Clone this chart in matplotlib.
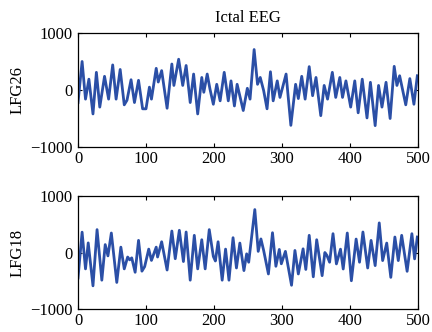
import numpy as np
import matplotlib
matplotlib.use('Agg')
import matplotlib.pyplot as plt

# peaks / troughs (sample index, amplitude)
t26 = [0, 6, 11, 16, 22, 27, 32, 39, 45, 51, 56, 62, 68, 72, 78, 83, 89, 95, 100,
       105, 108, 115, 118, 123, 131, 138, 141, 148, 154, 159, 165, 170, 176, 182,
       185, 190, 194, 199, 204, 209, 215, 221, 225, 230, 234, 243, 249, 253, 259,
       264, 268, 273, 278, 283, 287, 293, 297, 306, 313, 320, 324, 329, 334, 340,
       345, 350, 357, 362, 367, 374, 379, 385, 389, 394, 401, 407, 412, 418, 425,
       430, 437, 442, 447, 453, 459, 465, 469, 473, 482, 488, 494, 499]
v26 = [-220, 500, -160, 190, -420, 310, -300, 240, -160, 440, -160, 360, -260, -180,
       180, -220, 170, -330, -330, 50, -160, 380, 140, 340, -320, 456, 80, 540, 80,
       430, -220, 280, -420, 220, -40, 280, 20, -250, 100, -190, 310, -190, 160,
       -280, 100, -360, 30, -160, 710, 100, 220, -10, -330, 320, -190, 160, -130,
       280, -620, 100, -150, 240, -160, 410, -100, 220, -450, 80, -160, 310, -130,
       220, -130, 160, -300, 160, -400, 190, -490, 135, -625, 80, -300, 135, -500,
       415, 80, 250, -260, 200, -250, 250]

t18 = [0, 6, 11, 15, 22, 28, 35, 40, 44, 49, 57, 63, 68, 73, 76, 79, 84, 89, 94,
       98, 104, 108, 115, 117, 123, 131, 138, 143, 149, 155, 159, 165, 171, 176,
       182, 187, 193, 199, 202, 206, 212, 217, 222, 228, 233, 238, 244, 248, 251,
       260, 265, 269, 273, 280, 286, 291, 296, 299, 305, 314, 319, 324, 331, 335,
       340, 346, 351, 359, 363, 366, 370, 375, 380, 386, 390, 396, 402, 409, 414,
       419, 426, 431, 437, 443, 448, 454, 460, 466, 471, 476, 484, 491, 495, 499]
v18 = [-450, 360, -290, 170, -590, 405, -490, 140, -60, 345, -530, 95, -290, -80,
       -130, -95, -350, 215, -330, -250, 60, -140, 95, -80, 190, -310, 380, -110,
       393, -160, 363, -490, 304, -290, 226, -290, 405, -70, -150, 190, -490, 60,
       -490, 262, -274, 167, -320, -24, -172, 760, 20, 240, 36, -380, 350, -244,
       54, -200, 20, -580, 36, -380, 65, -300, 304, -430, 226, -410, 0, -50, -172,
       333, -202, 59, -292, 345, -500, 238, -172, 363, -274, 214, -232, 524, -143,
       167, -440, 274, -143, 304, -333, 333, -113, 274]

channels = [('LFG26', t26, v26), ('LFG18', t18, v18)]
line_color = '#2b4fa6'

plt.rcParams['font.family'] = ['Liberation Serif', 'DejaVu Serif']
plt.rcParams['font.size'] = 12

fig = plt.figure(figsize=(4.32, 3.32), dpi=100)
boxes = [[0.1806, 0.5572, 0.787, 0.3434],
         [0.1806, 0.0693, 0.787, 0.3403]]

for box, (name, t, v) in zip(boxes, channels):
    ax = fig.add_axes(box)
    ax.plot(t, v, color=line_color, lw=2, solid_joinstyle='round')
    ax.set_xlim(0, 500)
    ax.set_ylim(-1000, 1000)
    ax.set_xticks([0, 100, 200, 300, 400, 500])
    ax.set_yticks([-1000, 0, 1000])
    ax.set_ylabel(name, labelpad=3)
    ax.tick_params(direction='in', length=3, width=0.8, top=True, right=True,
                   labelsize=12)
    ax.tick_params(axis='y', pad=4)
    ax.tick_params(axis='x', pad=3)
    for s in ax.spines.values():
        s.set_linewidth(0.9)
    if name == 'LFG26':
        ax.set_title('Ictal EEG', fontsize=12, pad=8)

fig.savefig('out.png', dpi=100)
